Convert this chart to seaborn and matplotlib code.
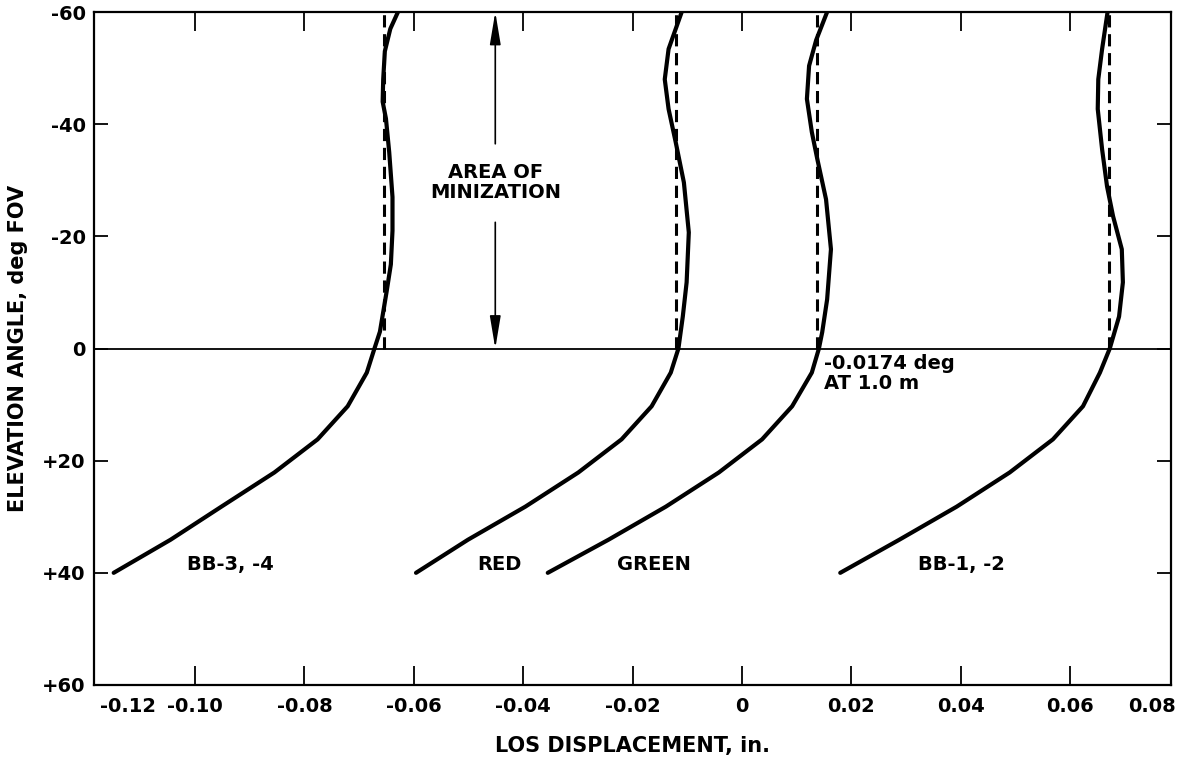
import matplotlib
matplotlib.use("Agg")
import matplotlib.pyplot as plt
import seaborn as sns
import pandas as pd

# ---- data ----
curve_names = ["BB-3, -4", "RED", "GREEN", "BB-1, -2"]

bb34_angle = [40, 34.1, 28.2, 22.1, 16.2, 10.3, 4.3, 0, -3, -10, -15, -21, -27, -35, -41, -44, -48, -53, -57, -60]
bb34_disp = [-0.1149, -0.1045, -0.0952, -0.0855, -0.0776, -0.0721, -0.0686, -0.0672, -0.0662,
             -0.0650, -0.0642, -0.0639, -0.0639, -0.0645, -0.0651, -0.0657, -0.0656, -0.0653, -0.0643, -0.0629]

red_angle = [40, 34.1, 28.2, 22.1, 16.2, 10.3, 4.3, 0, -5.7, -11.8, -20.7, -29.6, -36.8, -42.7, -48, -53.4, -60]
red_disp = [-0.0596, -0.0501, -0.0396, -0.0299, -0.0220, -0.0165, -0.0130, -0.0116, -0.0108,
            -0.0101, -0.0097, -0.0106, -0.0121, -0.0134, -0.0141, -0.0134, -0.0110]

green_angle = [40, 34.1, 28.2, 22.1, 16.2, 10.3, 4.3, 0, -2.9, -8.75, -17.7, -26.6, -33.8, -38.6, -44.5, -50.4, -55, -60]
green_disp = [-0.0355, -0.0244, -0.0139, -0.0042, 0.0037, 0.0092, 0.0128, 0.0141, 0.0147, 0.0156,
              0.0163, 0.0154, 0.0138, 0.0128, 0.0119, 0.0123, 0.0136, 0.0156]

bb12_angle = [40, 34.1, 28.2, 22.1, 16.2, 10.3, 4.3, 0, -5.7, -11.8, -17.7, -23.6, -28.9, -35.5, -42.7, -48, -53.4, -60]
bb12_disp = [0.0180, 0.0288, 0.0393, 0.0490, 0.0569, 0.0624, 0.0655, 0.0673, 0.0690, 0.0697,
             0.0695, 0.0679, 0.0668, 0.0659, 0.0651, 0.0652, 0.0659, 0.0669]

# dashed reference lines (over the area of minimization, 0 to -60 deg)
dashed_disp = [-0.0654, -0.0121, 0.0138, 0.0672]
dashed_angle = [0, -60]

x_ticks = [-0.12, -0.10, -0.08, -0.06, -0.04, -0.02, 0, 0.02, 0.04, 0.06, 0.08]
x_tick_labels = ["-0.12", "-0.10", "-0.08", "-0.06", "-0.04", "-0.02", "0", "0.02", "0.04", "0.06", "0.08"]
y_ticks = [-60, -40, -20, 0, 20, 40, 60]
y_tick_labels = ["-60", "-40", "-20", "0", "+20", "+40", "+60"]

# ---- build tables ----
frames = []
for name, a, d in zip(curve_names,
                      [bb34_angle, red_angle, green_angle, bb12_angle],
                      [bb34_disp, red_disp, green_disp, bb12_disp]):
    frames.append(pd.DataFrame({"curve": name, "angle": a, "disp": d}))
df = pd.concat(frames, ignore_index=True)

dframes = []
for name, d in zip(curve_names, dashed_disp):
    dframes.append(pd.DataFrame({"curve": name, "angle": dashed_angle, "disp": [d, d]}))
ddf = pd.concat(dframes, ignore_index=True)

sns.set_style("white")
plt.rcParams["font.family"] = ["DejaVu Sans"]
plt.rcParams["text.color"] = "black"
plt.rcParams["axes.labelcolor"] = "black"
plt.rcParams["xtick.color"] = "black"
plt.rcParams["ytick.color"] = "black"

fig = plt.figure(figsize=(11.82, 7.72), dpi=100)
ax = fig.add_axes([94 / 1182, 1 - 685 / 772, (1171 - 94) / 1182, (685 - 12) / 772])

sns.lineplot(data=df, x="disp", y="angle", units="curve", estimator=None, sort=False,
             color="black", linewidth=3.0, ax=ax, legend=False)
sns.lineplot(data=ddf, x="disp", y="angle", units="curve", estimator=None, sort=False,
             color="black", linewidth=2.2, ax=ax, legend=False, linestyle=(0, (4, 2.2)))

ax.axhline(0, color="black", linewidth=1.3, zorder=1)

xmin, xmax = -0.1185, 0.0785
ax.set_xlim(xmin, xmax)
ax.set_ylim(60, -60)

inner = [t for t in x_ticks if xmin < t < xmax]
inner_labels = [l for t, l in zip(x_ticks, x_tick_labels) if xmin < t < xmax]
ax.set_xticks(inner)
ax.set_xticklabels(inner_labels)
ax.set_yticks(y_ticks)
ax.set_yticklabels(y_tick_labels)

ax.tick_params(axis="x", direction="in", length=14, width=1.3, top=True, bottom=True,
               labelsize=14, pad=9)
ax.tick_params(axis="y", direction="in", length=10, width=1.3, left=True, right=True,
               labelsize=14, pad=6)
for lab in ax.get_xticklabels() + ax.get_yticklabels():
    lab.set_fontweight("bold")

# edge tick labels (-0.12, 0.08) sit at the corners of the frame
ax.text(0.032, -0.0185, x_tick_labels[0], transform=ax.transAxes, ha="center", va="top",
        fontsize=14, fontweight="bold")
ax.text(0.982, -0.0185, x_tick_labels[-1], transform=ax.transAxes, ha="center", va="top",
        fontsize=14, fontweight="bold")

for s in ax.spines.values():
    s.set_linewidth(1.6)
    s.set_color("black")

ax.set_xlabel("LOS DISPLACEMENT, in.", fontsize=15, fontweight="bold", labelpad=14)
ax.set_ylabel("ELEVATION ANGLE, deg FOV", fontsize=15, fontweight="bold", labelpad=10)

# curve labels
label_x = [-0.0936, -0.0444, -0.0161, 0.0402]
for name, lx in zip(curve_names, label_x):
    ax.text(lx, 38.6, name, ha="center", va="center", fontsize=14, fontweight="bold")

ax.text(0.0150, 1.0, "-0.0174 deg\nAT 1.0 m", ha="left", va="top", fontsize=14,
        fontweight="bold", linespacing=1.05)

# area of minimization with double arrow
ax.text(-0.0451, -29.6, "AREA OF\nMINIZATION", ha="center", va="center", fontsize=14,
        fontweight="bold", linespacing=1.05)
arrow_kw = dict(arrowstyle="-|>,head_width=0.15,head_length=0.9", color="black", lw=1.2,
                shrinkA=0, shrinkB=0, mutation_scale=22)
ax.annotate("", xy=(-0.0451, -60), xytext=(-0.0451, -36.5), arrowprops=arrow_kw)
ax.annotate("", xy=(-0.0451, 0), xytext=(-0.0451, -22.5), arrowprops=arrow_kw)

fig.savefig("out.png", dpi=100)
